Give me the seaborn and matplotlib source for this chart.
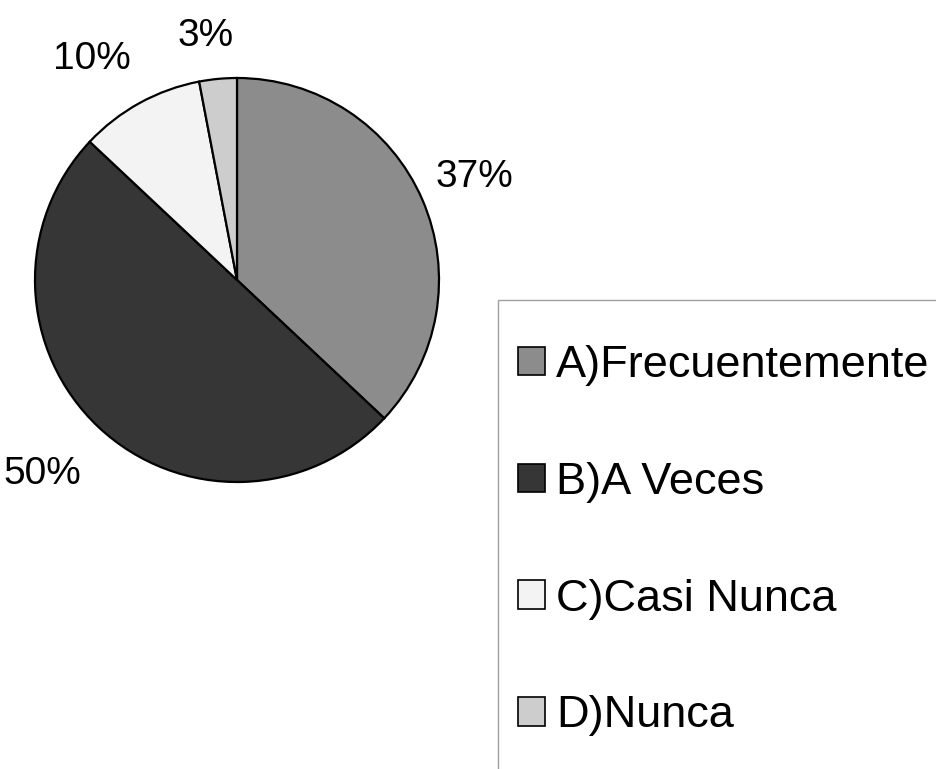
import numpy as np
import matplotlib
matplotlib.use("Agg")
import matplotlib.pyplot as plt
from matplotlib.patches import Patch, Rectangle
import seaborn as sns

categories = ["A)Frecuentemente", "B)A Veces", "C)Casi Nunca", "D)Nunca"]
values = [37, 50, 10, 3]
pct_labels = ["37%", "50%", "10%", "3%"]
colors = ["#8c8c8c", "#363636", "#f3f3f3", "#cdcdcd"]

sns.set_theme(style="white")
plt.rcParams['font.family'] = ['Liberation Sans', 'DejaVu Sans']

W, H = 937, 769
fig = plt.figure(figsize=(W / 100, H / 100), dpi=100)
ax = fig.add_axes([0, 0, 1, 1])

cx, cy, r = 237, H - 280, 202
wedges, _ = ax.pie(values, colors=colors, startangle=90, counterclock=False,
                   center=(cx, cy), radius=r, frame=True,
                   wedgeprops=dict(edgecolor="black", linewidth=1.6))
ax.set_xlim(0, W)
ax.set_ylim(0, H)
ax.axis("off")

dists = [1.28, 1.36, 1.31, 1.22]
shifts = [0, -2.0, 4.5, 2.0]
for w, lab, d, s in zip(wedges, pct_labels, dists, shifts):
    th = np.deg2rad((w.theta1 + w.theta2) / 2 + s)
    ax.text(cx + d * r * np.cos(th), cy + d * r * np.sin(th), lab,
            ha="center", va="center", fontsize=28, color="black")

# legend frame (extends beyond canvas)
fig.patches.append(Rectangle((498 / W, -0.1), 0.6, (H - 300) / H + 0.1,
                             transform=fig.transFigure, fill=False,
                             edgecolor="#a0a0a0", linewidth=1.0))
handles = [Patch(facecolor=c, edgecolor="black", linewidth=1.2) for c in colors]
fig.legend(handles, categories, loc="upper left",
           bbox_to_anchor=(518 / W, (H - 345) / H), frameon=False,
           fontsize=32.5, labelspacing=1.68, handlelength=0.6, handleheight=0.6,
           handletextpad=0.25, borderpad=0, borderaxespad=0, labelcolor="black")

fig.savefig("out.png", dpi=100, facecolor="white")
